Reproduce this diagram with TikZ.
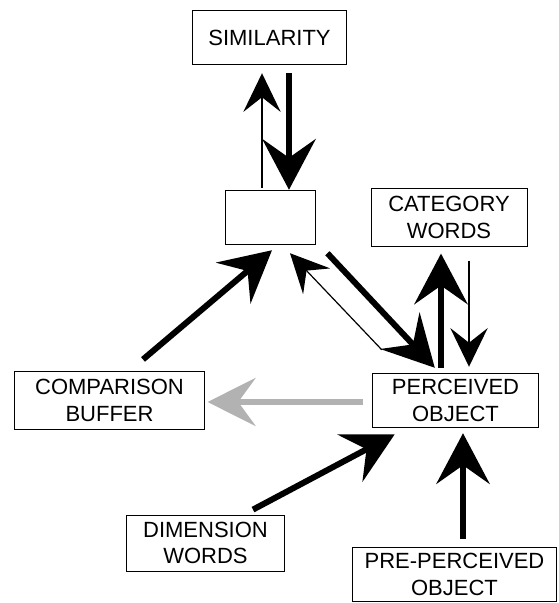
\documentclass[tikz,border=0pt]{standalone}
\usepackage{fontspec}
\setmainfont{Liberation Sans}
\usetikzlibrary{calc,arrows.meta}

\begin{document}
\begin{tikzpicture}[x=0.75pt, y=-0.75pt,
    box/.style={draw, line width=0.6pt, align=center, inner sep=0pt,
                font=\fontsize{16.5}{20}\selectfont},
    heavy/.style={line width=4.5pt, -{Stealth[length=38pt,width=40pt,inset=14pt]}},
    light/.style={line width=0.9pt, -{Stealth[length=29pt,width=28pt,inset=11pt]}},
    shaded/.style={line width=4.5pt, gray!60, -{Stealth[length=36pt,width=36pt,inset=13pt]}}]
  \useasboundingbox (0,0) rectangle (559,603);
  % boxes
  \node[box, minimum width=116pt, minimum height=41pt] (sim) at (269.5,37.5) {SIMILARITY};
  \node[box, minimum width=67.5pt, minimum height=41pt] (mid) at (270,217.5) {};
  \node[box, minimum width=117pt, minimum height=43pt] (cat) at (449,217.5) {CATEGORY\\WORDS};
  \node[box, minimum width=125pt, minimum height=41pt] (perc) at (455.5,400.5) {PERCEIVED\\OBJECT};
  \node[box, minimum width=142pt, minimum height=43pt] (comp) at (109.5,400.5) {COMPARISON\\BUFFER};
  \node[box, minimum width=118pt, minimum height=42pt] (dim) at (205.5,543) {DIMENSION\\WORDS};
  \node[box, minimum width=153pt, minimum height=40pt] (pre) at (454.5,574.5) {PRE-PERCEIVED\\OBJECT};
  % connectors
  \draw[light] ($(mid.north)+(-8,-2)$) -- ($(sim.south)+(-7.5,8)$);
  \draw[heavy] ($(sim.south)+(19.5,8)$) -- ($(mid.north)+(19,0)$);
  \draw[heavy] ($(perc.north)+(-14.5,-5)$) -- ($(cat.south)+(-8,7)$);
  \draw[light] ($(cat.south)+(20,14)$) -- ($(perc.north)+(13.5,-6)$);
  \draw[heavy] ($(mid.south east)+(12,8)$) -- ($(perc.north west)+(63,-5)$);
  \draw[light] ($(perc.north west)+(10,-23)$) -- ($(mid.south)+(20,8)$);
  \draw[heavy] ($(comp.north)+(33.5,-12)$) -- ($(mid.south)+(2,5)$);
  \draw[shaded] ($(perc.west)+(-9,1.5)$) -- ($(comp.east)+(3,1.5)$);
  \draw[heavy] ($(dim.north)+(47.5,-5)$) -- ($(perc.south west)+(23,6)$);
  \draw[heavy] ($(pre.north)+(8.5,-8)$) -- ($(perc.south)+(7.5,5)$);
\end{tikzpicture}
\end{document}
